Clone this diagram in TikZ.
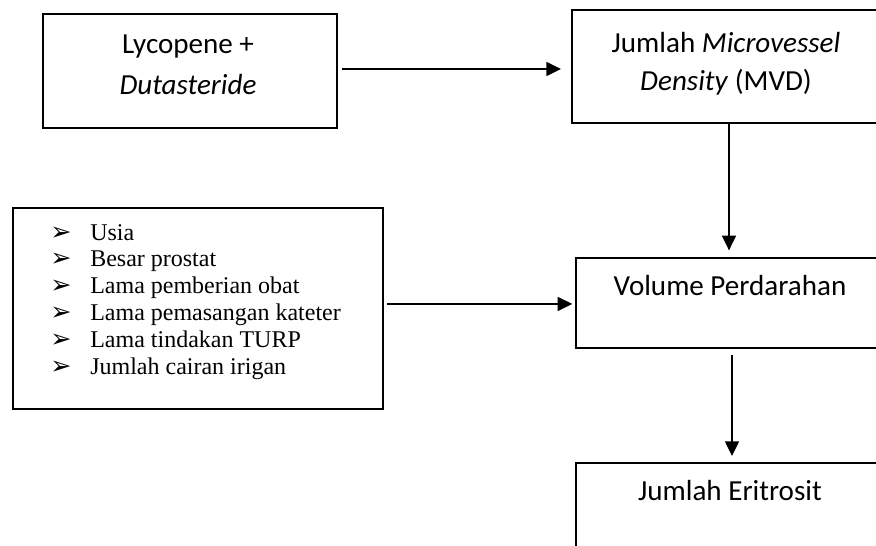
\documentclass[tikz,border=0pt]{standalone}
\usepackage{fontspec}
\setmainfont{Carlito}
\newfontfamily\tnr{Liberation Serif}
\newfontfamily\djv{DejaVu Sans}
\usetikzlibrary{arrows.meta}
\begin{document}
\begin{tikzpicture}[x=0.75pt,y=-0.75pt,
  box/.style={draw=black, line width=1.5pt, inner sep=0pt, anchor=north west},
  arr/.style={-{Triangle[length=11pt,width=10.5pt]}, line width=1.1pt},
  lbl/.style={font=\fontsize{21.8}{26}\selectfont, anchor=base, inner sep=0pt},
  itm/.style={font=\tnr\fontsize{18}{20}\selectfont, anchor=base west, inner sep=0pt},
  bul/.style={font=\djv\fontsize{19}{20}\selectfont, anchor=base west, inner sep=0pt}]
\useasboundingbox (0,0) rectangle (876,546);
\fill[white] (0,0) rectangle (876,546);
% boxes
\node[box, minimum width=220.5pt, minimum height=85.5pt] (b1) at (42,13) {};
\node[box, minimum width=235.5pt, minimum height=84.75pt] (b2) at (571,9) {};
\node[box, minimum width=277.5pt, minimum height=150.75pt] (bL) at (12,207) {};
\node[box, minimum width=234pt, minimum height=67.5pt] (b3) at (575,257) {};
\node[box, minimum width=234pt, minimum height=90pt] (b4) at (575,462) {};
% texts
\node[lbl] (t1a) at (188,53) {Lycopene +};
\node[lbl] (t1b) at (188,94) {\itshape Dutasteride};
\node[lbl] (t2a) at (726,52) {Jumlah \textit{Microvessel}};
\node[lbl] (t2b) at (726,90) {\textit{Density} (MVD)};
\node[lbl] (t3) at (730,295) {Volume Perdarahan};
\node[lbl] (t4) at (730,500) {Jumlah Eritrosit};
% list
\foreach \t [count=\i] in {Usia, Besar prostat, Lama pemberian obat, Lama pemasangan kateter, Lama tindakan TURP, Jumlah cairan irigan}{
  \node[bul] (bu\i) at (50,{240+26.8*(\i-1)}) {➢};
  \node[itm] (li\i) at (90,{240+26.8*(\i-1)}) {\t};
}
% connectors
\coordinate (a1s) at ([xshift=3pt,yshift=1.5pt]b1.east);
\coordinate (a1e) at (b2.west |- a1s);
\coordinate (a2s) at ([xshift=2.25pt,yshift=3.4pt]bL.east);
\coordinate (a2e) at (b3.west |- a2s);
\coordinate (a3e) at (b2.south |- b3.north);
\draw[arr, shorten >=7.5pt] (a1s) -- (a1e);
\draw[arr, shorten >=5pt] (b2.south) -- (a3e);
\draw[arr, shorten >=2pt] (a2s) -- (a2e);
\draw[arr, shorten <=4.5pt, shorten >=4.5pt] (b3.south) -- (b4.north);
\end{tikzpicture}
\end{document}
